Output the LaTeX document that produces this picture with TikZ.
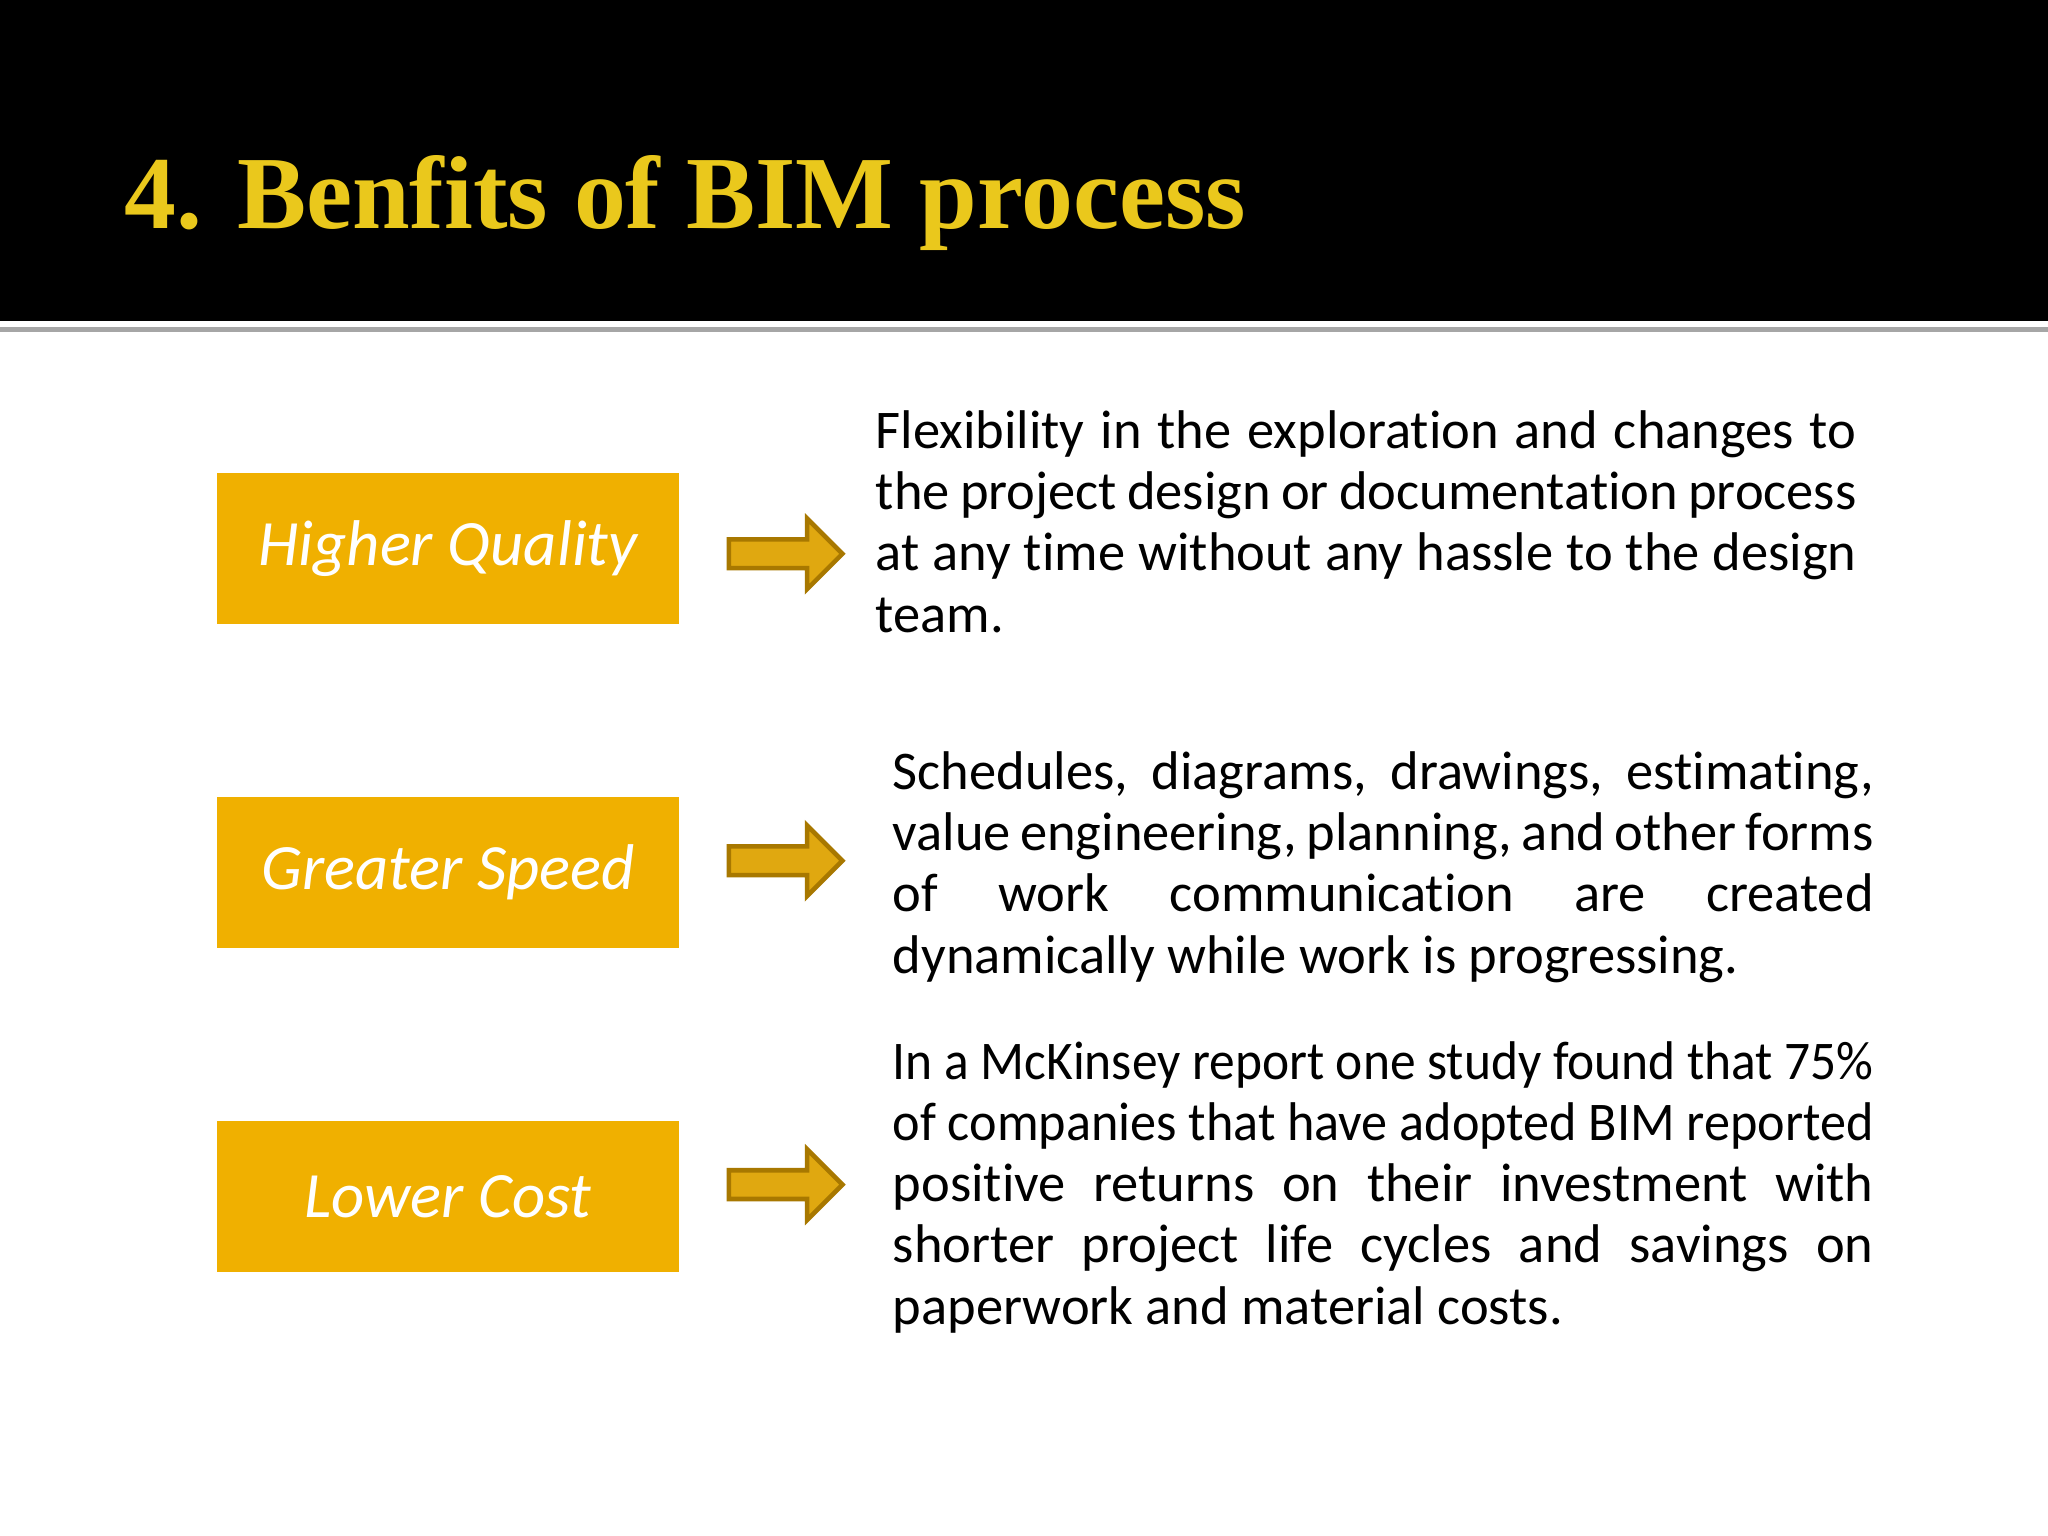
\documentclass[tikz,border=0pt]{standalone}
\usepackage{fontspec}
\usepackage{graphicx}
\setmainfont{Carlito}[Ligatures={NoCommon}]
\newfontfamily\titlefont{Liberation Serif}
\definecolor{gold}{HTML}{F0B000}
\definecolor{titlegold}{HTML}{EAC81C}
\definecolor{arrowfill}{HTML}{E0A810}
\definecolor{arrowdraw}{HTML}{A87800}
\tikzset{
  benefit/.style={fill=gold, minimum width=354*0.013061cm, minimum height=116*0.013061cm, inner sep=0pt,
    font=\fontsize{18.4}{22}\selectfont\itshape, text=white},
  goarrow/.style={fill=arrowfill, draw=arrowdraw, line width=1.3pt, line join=miter},
  para/.style={anchor=north west, text width=751*0.013061cm, align=justify, inner sep=0pt,
    font=\fontsize{15.5}{17.4}\selectfont}
}
\newcommand{\fitline}[1]{\resizebox{\linewidth}{\height}{#1}\linebreak}
\newcommand{\goarr}[2]{\coordinate (#1) at #2;
  \draw[goarrow,shift={(#1)}] (-43,-11) -- (17,-11) -- (17,-27) -- (44,0) -- (17,27) -- (17,11) -- (-43,11) -- cycle;}
\begin{document}
\begin{tikzpicture}[x=0.013061cm,y=-0.013061cm]
\useasboundingbox (0,0) rectangle (1568,1176);
\fill[white] (0,0) rectangle (1568,1176);
\fill[black] (0,0) rectangle (1568,246);
\fill[gray!70] (0,250) rectangle (1568,254);
\node[anchor=base west, inner sep=0pt, text=titlegold, font=\titlefont\bfseries\fontsize{29.5}{34}\selectfont] (title) at (95,175) {4. Benfits of BIM process};
\node[benefit] (b1) at (343,420) {Higher Quality};
\node[benefit] (b2) at (343,668) {Greater Speed};
\node[benefit] (b3) at (343,916) {Lower Cost};
\goarr{a1}{(601,424)}
\goarr{a2}{(601,659)}
\goarr{a3}{(601,907)}
\node[para] (p1) at (670,314) {Flexibility in the exploration and changes to\linebreak the project design or documentation process\linebreak at any time without any hassle to the design\linebreak team.};
\node[para] (p2) at (683,575) {Schedules, diagrams, drawings, estimating,\linebreak value engineering, planning, and other forms\linebreak of work communication are created\linebreak dynamically while work is progressing.};
\node[para] (p3) at (683,797) {\fitline{In a McKinsey report one study found that 75\%}\fitline{of companies that have adopted BIM reported}positive returns on their investment with\linebreak shorter project life cycles and savings on\linebreak paperwork and material costs.};
\end{tikzpicture}
\end{document}
